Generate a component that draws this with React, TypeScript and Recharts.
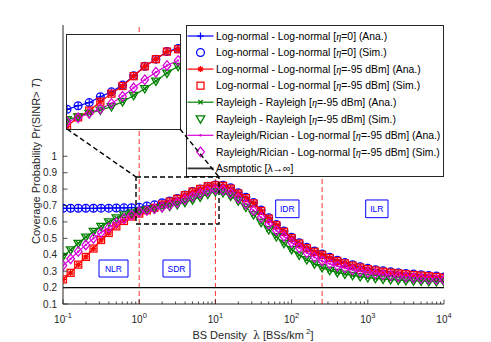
import React from 'react'
import { LineChart, Line, XAxis, YAxis, ReferenceLine, ReferenceArea } from 'recharts'

// BS density samples (10 per decade)
const LAMBDA = [
  0.1, 0.1259, 0.1585, 0.1995, 0.2512, 0.3162, 0.3981, 0.5012, 0.631, 0.7943,
  1, 1.259, 1.585, 1.995, 2.512, 3.162, 3.981, 5.012, 6.31, 7.943,
  10, 12.59, 15.85, 19.95, 25.12, 31.62, 39.81, 50.12, 63.1, 79.43,
  100, 125.9, 158.5, 199.5, 251.2, 316.2, 398.1, 501.2, 631, 794.3,
  1000, 1259, 1585, 1995, 2512, 3162, 3981, 5012, 6310, 7943, 10000,
]

// Log-normal - Log-normal, eta = 0
const LN_ETA0 = [
  0.683, 0.683, 0.683, 0.683, 0.683, 0.684, 0.684, 0.685, 0.686, 0.687,
  0.689, 0.697, 0.704, 0.717, 0.728, 0.743, 0.764, 0.785, 0.801, 0.818,
  0.825, 0.824, 0.808, 0.778, 0.75, 0.718, 0.672, 0.625, 0.585, 0.545,
  0.507, 0.473, 0.445, 0.423, 0.405, 0.385, 0.367, 0.352, 0.339, 0.327,
  0.317, 0.309, 0.302, 0.296, 0.291, 0.286, 0.282, 0.278, 0.274, 0.27, 0.265,
]

// Log-normal - Log-normal, eta = -95 dBm
const LN_ETA95 = [
  0.25, 0.29, 0.34, 0.387, 0.438, 0.49, 0.533, 0.573, 0.606, 0.633,
  0.651, 0.671, 0.686, 0.706, 0.724, 0.741, 0.763, 0.785, 0.801, 0.818,
  0.823, 0.82, 0.803, 0.773, 0.745, 0.713, 0.667, 0.62, 0.58, 0.54,
  0.502, 0.468, 0.44, 0.418, 0.4, 0.38, 0.362, 0.347, 0.334, 0.322,
  0.312, 0.304, 0.297, 0.291, 0.286, 0.281, 0.277, 0.273, 0.269, 0.265, 0.26,
]

// Rayleigh - Rayleigh, eta = -95 dBm
const RAYLEIGH = [
  0.39, 0.43, 0.47, 0.508, 0.542, 0.573, 0.6, 0.625, 0.643, 0.656,
  0.666, 0.672, 0.68, 0.687, 0.695, 0.706, 0.72, 0.735, 0.752, 0.77,
  0.785, 0.778, 0.758, 0.728, 0.69, 0.645, 0.598, 0.553, 0.51, 0.47,
  0.432, 0.398, 0.37, 0.345, 0.322, 0.305, 0.292, 0.282, 0.274, 0.267,
  0.261, 0.256, 0.252, 0.249, 0.246, 0.243, 0.241, 0.239, 0.237, 0.236, 0.235,
]

// Rayleigh/Rician - Log-normal, eta = -95 dBm
const RICIAN = [
  0.335, 0.375, 0.42, 0.46, 0.5, 0.535, 0.565, 0.595, 0.62, 0.642,
  0.661, 0.67, 0.68, 0.69, 0.702, 0.718, 0.737, 0.755, 0.772, 0.787,
  0.798, 0.795, 0.775, 0.745, 0.71, 0.67, 0.628, 0.587, 0.548, 0.512,
  0.475, 0.442, 0.412, 0.385, 0.362, 0.345, 0.331, 0.319, 0.308, 0.299,
  0.291, 0.284, 0.278, 0.272, 0.267, 0.263, 0.259, 0.255, 0.252, 0.249, 0.246,
]

const ASYMPTOTE = 0.2
const BOUNDARIES = [1, 10, 251.2]

const X_MAJOR = [0.1, 1, 10, 100, 1000, 10000]
const X_TICKS = X_MAJOR.slice(0, -1)
  .flatMap((d) => [1, 2, 3, 4, 5, 6, 7, 8, 9].map((m) => d * m))
  .concat([10000])
const Y_TICKS = [0.1, 0.2, 0.3, 0.4, 0.5, 0.6, 0.7, 0.8, 0.9, 1]

const REGIONS = [
  { name: 'NLR', x1: 0.2968, x2: 0.7129, y1: 0.2645, y2: 0.368 },
  { name: 'SDR', x1: 2.052, x2: 4.64, y1: 0.2645, y2: 0.368 },
  { name: 'IDR', x1: 61.8, x2: 125, y1: 0.626, y2: 0.7338 },
  { name: 'ILR', x1: 938.6, x2: 1841, y1: 0.626, y2: 0.7338 },
]

const BLUE = '#0000ff'
const RED = '#ff0000'
const GREEN = '#008000'
const MAGENTA = '#d800d8'
const AXIS = '#262626'
const FONT = '"Liberation Sans", Arial, Helvetica, sans-serif'

const SERIES = [
  { key: 'ln0', color: BLUE, ana: 'plus', sim: 'circle', label: 'Log-normal - Log-normal [η=0]' },
  { key: 'ln95', color: RED, ana: 'star', sim: 'square', label: 'Log-normal - Log-normal [η=-95 dBm]' },
  { key: 'ray', color: GREEN, ana: 'cross', sim: 'tri', label: 'Rayleigh - Rayleigh [η=-95 dBm]' },
  { key: 'ric', color: MAGENTA, ana: 'dot', sim: 'diamond', label: 'Rayleigh/Rician - Log-normal [η=-95 dBm]' },
]

const data = LAMBDA.map((lam, i) => ({
  lam,
  ln0: LN_ETA0[i],
  ln95: LN_ETA95[i],
  ray: RAYLEIGH[i],
  ric: RICIAN[i],
}))
const insetData = data.slice(10, 21)

function Marker({ kind, cx, cy, color }: { kind: string; cx: number; cy: number; color: string }) {
  const s = { stroke: color, strokeWidth: 1.25, fill: 'none' }
  switch (kind) {
    case 'plus':
      return <path d={`M${cx - 3.4},${cy}H${cx + 3.4}M${cx},${cy - 3.4}V${cy + 3.4}`} {...s} />
    case 'star':
      return (
        <path
          d={`M${cx - 3},${cy}H${cx + 3}M${cx},${cy - 3}V${cy + 3}M${cx - 2.2},${cy - 2.2}L${cx + 2.2},${cy + 2.2}M${cx - 2.2},${cy + 2.2}L${cx + 2.2},${cy - 2.2}`}
          {...s}
        />
      )
    case 'cross':
      return <path d={`M${cx - 2.2},${cy - 2.2}L${cx + 2.2},${cy + 2.2}M${cx - 2.2},${cy + 2.2}L${cx + 2.2},${cy - 2.2}`} {...s} />
    case 'dot':
      return <circle cx={cx} cy={cy} r={1.2} fill={color} />
    case 'circle':
      return <circle cx={cx} cy={cy} r={3.9} {...s} />
    case 'square':
      return <rect x={cx - 3.5} y={cy - 3.5} width={7} height={7} {...s} />
    case 'tri':
      return <polygon points={`${cx - 4.3},${cy - 3} ${cx + 4.3},${cy - 3} ${cx},${cy + 4.4}`} {...s} />
    case 'diamond':
      return <polygon points={`${cx},${cy - 4.8} ${cx + 3.8},${cy} ${cx},${cy + 4.8} ${cx - 3.8},${cy}`} {...s} />
    default:
      return null
  }
}

const dotFn = (kind: string, color: string) => (p: any) =>
  p.cx == null ? <g key={`${kind}-${p.index}`} /> : (
    <Marker key={`${kind}-${p.index}`} kind={kind} cx={p.cx} cy={p.cy} color={color} />
  )

function XTick(props: any) {
  const { x, y, payload, side } = props
  const v = payload.value
  const major = X_MAJOR.some((m) => Math.abs(m - v) < 1e-9)
  const len = major ? 4.5 : 2.5
  const y2 = side === 'top' ? y + len : y - len
  return (
    <g>
      <line x1={x} x2={x} y1={y} y2={y2} stroke={AXIS} strokeWidth={0.8} />
      {side === 'bottom' && major && (
        <text x={x} y={y + 18.5} textAnchor="middle" fontSize={10} fill={AXIS} fontFamily={FONT}>
          10
          <tspan dy={-5} fontSize={7.5}>
            {Math.round(Math.log10(v))}
          </tspan>
        </text>
      )}
    </g>
  )
}

function YTick(props: any) {
  const { x, y, payload, side } = props
  const v = payload.value
  const len = 4.5
  return (
    <g>
      <line x1={x} x2={side === 'left' ? x + len : x - len} y1={y} y2={y} stroke={AXIS} strokeWidth={0.8} />
      {side === 'left' && (
        <text x={x - 6} y={y + 3.5} textAnchor="end" fontSize={10} fill={AXIS} fontFamily={FONT}>
          {v === 1 ? '1' : v.toFixed(1)}
        </text>
      )}
    </g>
  )
}

function YTitle() {
  return (
    <text transform="rotate(-90)" x={-161} y={40} textAnchor="middle" fontSize={11} fill={AXIS} fontFamily={FONT}>
      Coverage Probability Pr(SINR&gt; <tspan fontStyle="italic">T</tspan>)
    </text>
  )
}

function XTitle() {
  return (
    <text x={253} y={339} textAnchor="middle" fontSize={11} fill={AXIS} fontFamily={FONT}>
      {'BS Density\u00a0 '}
      <tspan fontFamily="'DejaVu Serif', serif">λ</tspan>
      {' [BSs/km\u2009'}
      <tspan dy={-5} fontSize={8}>
        2
      </tspan>
      <tspan dy={5}>]</tspan>
    </text>
  )
}

function LegendText({ text, x, y }: { text: string; x: number; y: number }) {
  const parts = text.split('η')
  return (
    <text x={x} y={y} fontSize={10.4} fill="#000" fontFamily={FONT}>
      {parts.map((p, i) => (
        <React.Fragment key={i}>
          {i > 0 && (
            <tspan fontStyle="italic" fontFamily="'Liberation Serif', serif">
              η
            </tspan>
          )}
          {p}
        </React.Fragment>
      ))}
    </text>
  )
}

function LegendBox() {
  const rows: { color: string; line: boolean; marker: string | null; text: string }[] = []
  SERIES.forEach((s) => {
    rows.push({ color: s.color, line: true, marker: s.ana, text: `${s.label} (Ana.)` })
    rows.push({ color: s.color, line: false, marker: s.sim, text: `${s.label} (Sim.)` })
  })
  rows.push({ color: '#333', line: true, marker: null, text: 'Asmptotic [λ→∞]' })
  return (
    <svg width={258} height={152} style={{ position: 'absolute', left: 186, top: 25 }}>
      <rect x={0.5} y={0.5} width={257} height={151} fill="#fff" stroke={AXIS} strokeWidth={1} />
      {rows.map((r, i) => {
        const cy = 11 + i * 16.55
        return (
          <g key={i}>
            {r.line && <line x1={1.5} x2={27.5} y1={cy} y2={cy} stroke={r.color} strokeWidth={r.marker ? 1.2 : 1.8} />}
            {r.marker && <Marker kind={r.marker} cx={14.5} cy={cy} color={r.color} />}
            <LegendText text={r.text} x={30} y={cy + 3.8} />
          </g>
        )
      })}
    </svg>
  )
}

function seriesLines(xId?: string, yId?: string) {
  return SERIES.flatMap((s) => [
    <Line
      key={`${s.key}-ana`}
      xAxisId={xId}
      yAxisId={yId}
      type="linear"
      dataKey={s.key}
      stroke={s.color}
      strokeWidth={1.2}
      dot={dotFn(s.ana, s.color)}
      activeDot={false}
      isAnimationActive={false}
    />,
    <Line
      key={`${s.key}-sim`}
      xAxisId={xId}
      yAxisId={yId}
      type="linear"
      dataKey={s.key}
      stroke="none"
      dot={dotFn(s.sim, s.color)}
      activeDot={false}
      isAnimationActive={false}
    />,
  ])
}

export default function App() {
  return (
    <div
      style={{
        position: 'absolute',
        left: 0,
        top: 0,
        width: 491,
        height: 342,
        background: '#fff',
        fontFamily: FONT,
      }}
    >
      <LineChart
        width={491}
        height={342}
        data={data}
        margin={{ top: 25, right: 47, bottom: 8, left: 0 }}
        style={{ position: 'absolute', left: 0, top: 0 }}
      >
        <XAxis
          xAxisId="b"
          dataKey="lam"
          type="number"
          scale="log"
          domain={[0.1, 10000]}
          allowDataOverflow
          ticks={X_TICKS}
          interval={0}
          tickSize={0}
          tickMargin={0}
          height={30}
          stroke={AXIS}
          tick={<XTick side="bottom" />}
          label={<XTitle />}
        />
        <XAxis
          xAxisId="t"
          orientation="top"
          dataKey="lam"
          type="number"
          scale="log"
          domain={[0.1, 10000]}
          allowDataOverflow
          ticks={X_TICKS}
          interval={0}
          tickSize={0}
          tickMargin={0}
          height={0}
          stroke={AXIS}
          tick={<XTick side="top" />}
        />
        <YAxis
          yAxisId="l"
          type="number"
          domain={[0.1, 1.8]}
          allowDataOverflow
          ticks={Y_TICKS}
          interval={0}
          tickSize={0}
          tickMargin={0}
          width={63}
          stroke={AXIS}
          tick={<YTick side="left" />}
          label={<YTitle />}
        />
        <YAxis
          yAxisId="r"
          orientation="right"
          type="number"
          domain={[0.1, 1.8]}
          allowDataOverflow
          ticks={Y_TICKS}
          interval={0}
          tickSize={0}
          tickMargin={0}
          width={0}
          stroke={AXIS}
          tick={<YTick side="right" />}
        />
        {BOUNDARIES.map((b) => (
          <ReferenceLine
            key={b}
            xAxisId="b"
            yAxisId="l"
            x={b}
            stroke="#ff3030"
            strokeWidth={1}
            strokeDasharray="5 3"
          />
        ))}
        {REGIONS.map((r) => (
          <ReferenceArea
            key={r.name}
            xAxisId="b"
            yAxisId="l"
            x1={r.x1}
            x2={r.x2}
            y1={r.y1}
            y2={r.y2}
            fill="#fff"
            fillOpacity={1}
            stroke={BLUE}
            strokeWidth={1}
            label={{ value: r.name, position: 'center', fill: BLUE, fontSize: 8.5, fontFamily: FONT }}
          />
        ))}
        <ReferenceLine xAxisId="b" yAxisId="l" y={ASYMPTOTE} stroke="#000" strokeWidth={1.2} />
        {seriesLines('b', 'l')}
      </LineChart>

      <LegendBox />

      <div
        style={{
          position: 'absolute',
          left: 66,
          top: 34,
          width: 113,
          height: 94,
          border: `1.3px solid ${AXIS}`,
          background: '#fff',
        }}
      >
        <LineChart
          width={113}
          height={94}
          data={insetData}
          margin={{ top: 0, right: 0, bottom: 0, left: 0 }}
          style={{ overflow: 'visible' }}
        >
          <XAxis dataKey="lam" type="number" scale="log" domain={[1, 10.4]} allowDataOverflow hide />
          <YAxis type="number" domain={[0.645, 0.855]} allowDataOverflow hide />
          {seriesLines()}
        </LineChart>
      </div>

      <LineChart
        width={491}
        height={342}
        data={data}
        margin={{ top: 25, right: 47, bottom: 38, left: 63 }}
        style={{ position: 'absolute', left: 0, top: 0, pointerEvents: 'none' }}
      >
        <XAxis dataKey="lam" type="number" scale="log" domain={[0.1, 10000]} allowDataOverflow hide />
        <YAxis type="number" domain={[0.1, 1.8]} allowDataOverflow hide />
        <ReferenceArea
          x1={0.908}
          x2={11.15}
          y1={0.5875}
          y2={0.874}
          fill="none"
          stroke="#000"
          strokeWidth={1.4}
          strokeDasharray="5 3"
        />
        <ReferenceLine
          segment={[
            { x: 0.1128, y: 1.1664 },
            { x: 0.908, y: 0.874 },
          ]}
          stroke="#000"
          strokeWidth={1.4}
          strokeDasharray="5 3"
        />
        <ReferenceLine
          segment={[
            { x: 3.43, y: 1.1664 },
            { x: 11.15, y: 0.874 },
          ]}
          stroke="#000"
          strokeWidth={1.4}
          strokeDasharray="5 3"
        />
      </LineChart>
    </div>
  )
}
